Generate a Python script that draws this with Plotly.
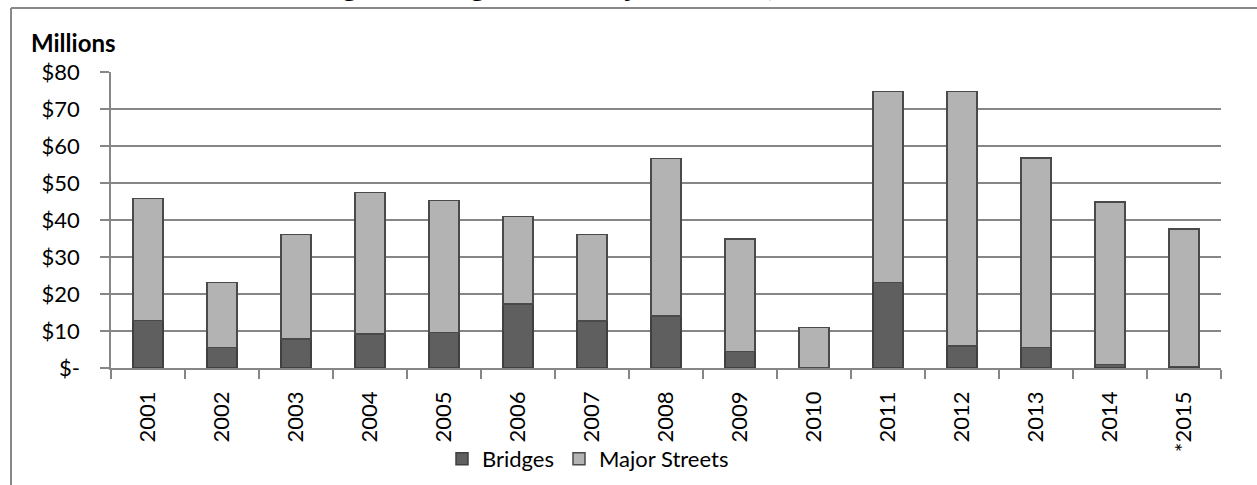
import plotly.graph_objects as go

years = ["2001", "2002", "2003", "2004", "2005", "2006", "2007", "2008",
         "2009", "2010", "2011", "2012", "2013", "2014", "*2015"]
bridges = [12.8, 5.6, 7.9, 9.2, 9.6, 17.3, 12.7, 14.0, 4.4, 0.0, 23.1, 6.0, 5.6, 1.0, 0.4]
major_streets = [33.0, 17.5, 28.2, 38.2, 35.7, 23.7, 23.4, 42.6, 30.4, 11.0, 51.6, 68.7, 51.2, 43.9, 37.2]
tick_vals = [0, 10, 20, 30, 40, 50, 60, 70, 80]
tick_text = ["$-", "$10", "$20", "$30", "$40", "$50", "$60", "$70", "$80"]
title_text = "Table 4 – Grant Funding for Bridges and Major Streets, 2001 to 2015"

FONT = "Lato, 'Open Sans', sans-serif"

fig = go.Figure()
fig.add_trace(go.Bar(x=years, y=bridges, name="Bridges",
                     marker=dict(color="#5f5f5f", line=dict(color="#404040", width=1.5))))
fig.add_trace(go.Bar(x=years, y=major_streets, name="Major Streets",
                     marker=dict(color="#b3b3b3", line=dict(color="#4a4a4a", width=1.5))))

W, H = 1257, 485
L, R, T, B = 111, 36, 72, 117
pw, ph = W - L - R, H - T - B

def px(x):
    return (x - L) / pw

def py(y):
    return (H - B - y) / ph

fig.update_layout(
    width=W, height=H,
    margin=dict(l=L, r=R, t=T, b=B, autoexpand=False),
    barmode="stack", bargap=0.595,
    plot_bgcolor="white", paper_bgcolor="white",
    font=dict(family=FONT, size=22, color="black"),
    showlegend=True,
    legend=dict(orientation="h", traceorder="normal",
                x=px(442), xanchor="left", y=py(459), yanchor="middle",
                font=dict(family=FONT, size=22), itemwidth=30,
                bgcolor="rgba(0,0,0,0)"),
    xaxis=dict(type="category", showgrid=False, ticks="outside", tickson="boundaries",
               ticklen=9, tickcolor="#868686", tickwidth=1.5,
               showline=True, linecolor="#868686", linewidth=1.5,
               tickangle=-90, tickfont=dict(family=FONT, size=22),
               ticklabelstandoff=13),
    yaxis=dict(range=[0, 80], tickvals=tick_vals, ticktext=tick_text,
               showgrid=True, gridcolor="#868686", gridwidth=1.5,
               ticks="outside", ticklen=9, tickcolor="#868686", tickwidth=1.5,
               showline=True, linecolor="#868686", linewidth=1.5,
               zeroline=False, tickfont=dict(family=FONT, size=22),
               ticklabelstandoff=16),
)

# outer chart frame (partially cropped in the reference)
fx, fy = px(11), py(8)
fig.add_shape(type="line", xref="paper", yref="paper", x0=fx, x1=fx, y0=py(500), y1=fy,
              line=dict(color="#888888", width=2))
fig.add_shape(type="line", xref="paper", yref="paper", x0=fx, x1=px(1300), y0=fy, y1=fy,
              line=dict(color="#888888", width=2))

fig.add_annotation(text="<b>Millions</b>", xref="paper", yref="paper",
                   x=px(29), y=py(42), xanchor="left", yanchor="middle",
                   showarrow=False, font=dict(family=FONT, size=24, color="black"))
# title line, cut off at the top of the picture
fig.add_annotation(text="<b>" + title_text + "</b>", xref="paper", yref="paper",
                   x=px(28), y=py(5), xanchor="left", yanchor="bottom",
                   showarrow=False, font=dict(family=FONT, size=31, color="black"))

fig.write_html("out.html", config={"displayModeBar": False},
               post_script="document.body.style.margin='0';")
